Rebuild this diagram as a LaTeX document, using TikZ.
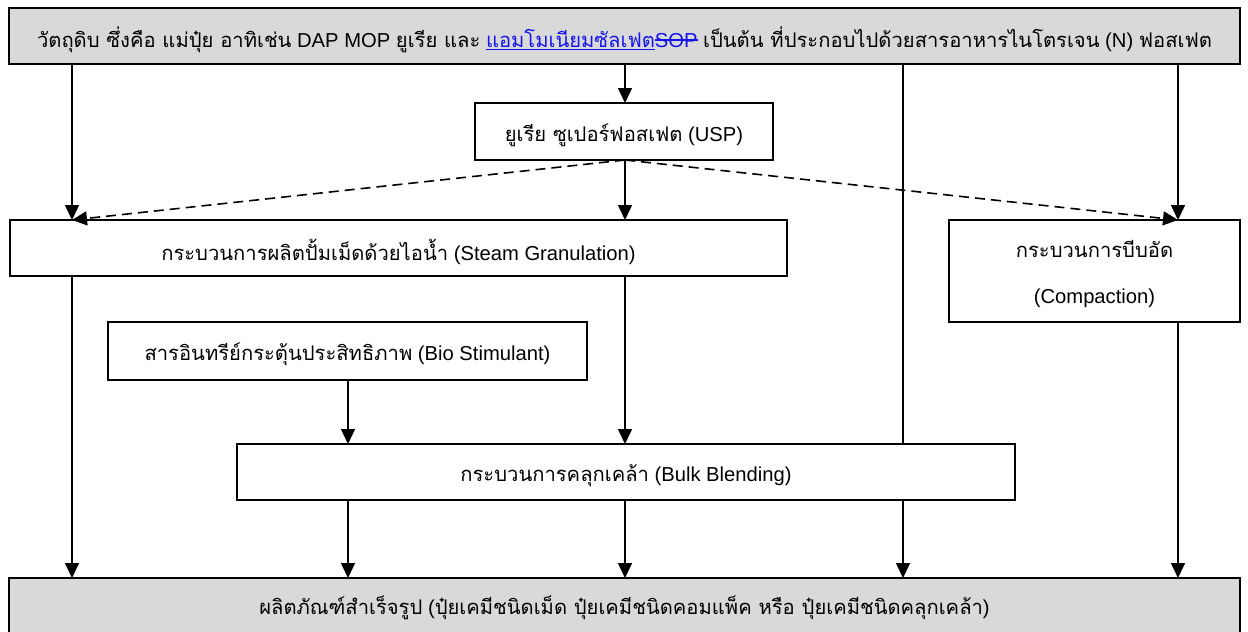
\documentclass[tikz,border=0pt]{standalone}
\usepackage{fontspec}
\setmainfont{Liberation Sans}
\newfontfamily\thaifont[Script=Thai]{Loma}
\usetikzlibrary{arrows.meta}
\definecolor{barfill}{RGB}{217,217,217}
\definecolor{linkblue}{RGB}{20,20,235}
\newcommand{\tht}[1]{{\thaifont #1}}
\newcommand{\mystrike}[1]{\sbox0{#1}\rlap{\rule[0.33em]{\wd0}{0.06em}}\usebox0}
\newcommand{\dn}[1]{\raisebox{-3.5pt}[\height][\depth]{#1}}
\begin{document}
\begin{tikzpicture}[x=1pt,y=-1pt,
  box/.style={draw=black, line width=1.6pt, fill=white, inner sep=0pt, outer sep=0pt, anchor=north west, align=center},
  bar/.style={box, fill=barfill},
  arr/.style={line width=1.6pt, -{Triangle[length=15pt,width=14pt]}},
  dasharr/.style={arr, dash pattern=on 10pt off 6pt},
  every node/.style={font=\fontsize{20.2}{24}\selectfont}]
\useasboundingbox (0,0) rectangle (1248,632);
\coordinate (c72) at (72,0);
\coordinate (c348) at (348,0);
\coordinate (c625) at (625,0);
\coordinate (c903) at (903,0);
\coordinate (c1178) at (1178,0);

\node[bar, minimum width=1231pt, minimum height=56pt] (top) at (9,8)
  {\dn{\tht{วัตถุดิบ ซึ่งคือ แม่ปุ๋ย อาทิเช่น} DAP MOP \tht{ยูเรีย และ} \textcolor{linkblue}{\underline{\tht{แอมโมเนียมซัลเฟต}}\mystrike{SOP}} \tht{เป็นต้น ที่ประกอบไปด้วยสารอาหารไนโตรเจน} (N) \tht{ฟอสเฟต}}};
\node[box, minimum width=298pt, minimum height=57pt] (usp) at (475,103)
  {\dn{\tht{ยูเรีย ซูเปอร์ฟอสเฟต} (USP)}};
\node[box, minimum width=777pt, minimum height=56pt] (steam) at (10,220)
  {\dn{\tht{กระบวนการผลิตปั้มเม็ดด้วยไอน้ำ} (Steam Granulation)}};
\node[box, minimum width=291pt, minimum height=102pt] (comp) at (949,220)
  {\dn{\tht{กระบวนการบีบอัด}}\\[22pt]\dn{(Compaction)}};
\node[box, minimum width=479pt, minimum height=58pt] (bio) at (108,322)
  {\dn{\tht{สารอินทรีย์กระตุ้นประสิทธิภาพ} (Bio Stimulant)}};
\node[box, minimum width=778pt, minimum height=56pt] (bulk) at (237,444)
  {\dn{\tht{กระบวนการคลุกเคล้า} (Bulk Blending)}};
\node[bar, minimum width=1231pt, minimum height=60pt] (bot) at (9,578)
  {\tht{ผลิตภัณฑ์สำเร็จรูป} (\tht{ปุ๋ยเคมีชนิดเม็ด ปุ๋ยเคมีชนิดคอมแพ็ค หรือ ปุ๋ยเคมีชนิดคลุกเคล้า})};

\draw[arr] (top.south -| c72) -- (steam.north -| c72);
\draw[arr] (top.south -| c625) -- (usp.north -| c625);
\draw[arr] (usp.south -| c625) -- (steam.north -| c625);
\draw[dasharr] (usp.south -| c625) -- (steam.north -| c72);
\draw[dasharr] (usp.south -| c625) -- (comp.north -| c1178);
\draw[arr] (top.south -| c1178) -- (comp.north -| c1178);
\draw[line width=1.6pt] (top.south -| c903) -- (bulk.north -| c903);
\draw[arr] (bulk.south -| c903) -- (bot.north -| c903);
\draw[arr] (steam.south -| c72) -- (bot.north -| c72);
\draw[arr] (steam.south -| c625) -- (bulk.north -| c625);
\draw[arr] (bio.south -| c348) -- (bulk.north -| c348);
\draw[arr] (bulk.south -| c348) -- (bot.north -| c348);
\draw[arr] (bulk.south -| c625) -- (bot.north -| c625);
\draw[arr] (comp.south -| c1178) -- (bot.north -| c1178);
\end{tikzpicture}
\end{document}
